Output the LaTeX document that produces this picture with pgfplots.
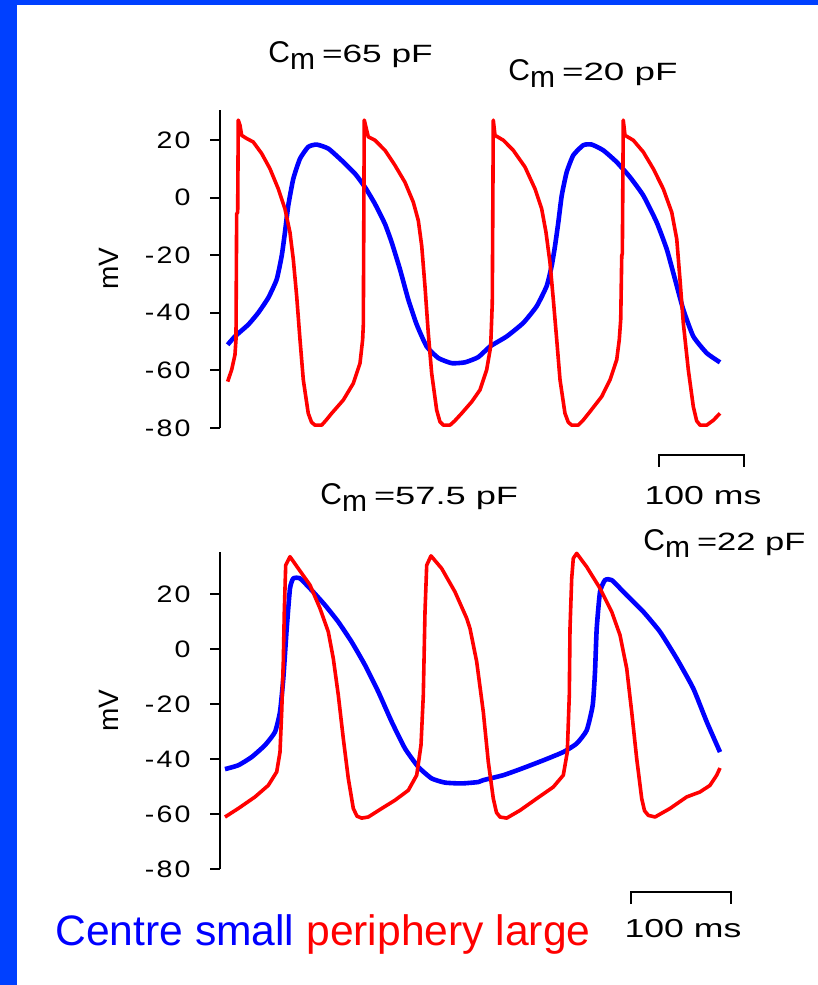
\documentclass[border=0pt]{standalone}
\usepackage{graphicx}
\usepackage{pgfplots}
\pgfplotsset{compat=1.18}
\usepackage{fontspec}
\setmainfont{Liberation Sans}
\newfontfamily\spacedfont[LetterSpace=8]{Liberation Sans}
\definecolor{frameblue}{RGB}{0,64,255}
\definecolor{tracered}{RGB}{255,0,0}
\definecolor{traceblue}{RGB}{0,0,255}

\pgfplotstableread{
t V
0.8 -51.1
9.4 -48.2
25.1 -44.1
36.8 -40.0
48.6 -34.8
58.5 -28.4
64.4 -20.2
68.2 -12.1
72.1 -2.8
78.0 6.5
85.9 13.5
95.6 17.6
105.5 18.4
119.2 17.0
134.9 12.9
150.6 8.3
162.4 3.6
174.1 -2.2
185.9 -9.2
193.8 -15.6
203.5 -24.9
213.3 -35.4
223.2 -44.1
234.9 -51.7
248.6 -55.7
264.4 -57.5
280.0 -57.2
295.6 -55.4
309.4 -51.7
329.1 -48.2
348.6 -43.5
364.4 -37.7
376.1 -30.7
382.0 -23.7
385.9 -16.8
389.8 -8.6
393.8 0.7
399.6 8.8
407.4 14.7
419.2 18.2
429.1 18.4
442.7 16.4
458.5 12.3
474.1 7.1
489.8 0.7
505.5 -8.6
517.3 -17.9
527.1 -28.4
536.8 -38.9
548.6 -48.2
564.4 -54.0
580.0 -57.2
}\topblue

\pgfplotstableread{
t V
0.8 -63.9
5.5 -59.8
9.4 -54.6
10.6 -49.3
11.4 -5.7
12.6 -5.1
13.3 26.9
15.3 25.1
17.3 21.6
23.2 20.5
30.9 19.3
40.8 15.3
50.6 10.0
60.4 3.0
68.2 -3.9
74.1 -12.1
78.0 -21.4
82.0 -34.2
85.9 -49.3
89.8 -63.3
95.6 -74.9
99.5 -78.0
103.5 -79.0
111.4 -79.0
116.0 -77.5
123.2 -74.9
136.8 -70.3
148.6 -64.5
156.5 -57.5
159.6 -49.3
160.4 -44.1
161.5 26.9
166.2 21.1
174.1 19.9
185.9 16.4
197.6 11.2
209.4 5.3
219.2 -1.6
225.1 -8.0
229.1 -16.8
232.9 -30.7
236.8 -47.0
240.8 -61.0
246.7 -73.8
250.5 -77.8
254.5 -79.0
262.4 -79.0
268.0 -77.5
276.1 -74.9
287.9 -70.9
297.6 -66.8
305.5 -59.8
310.2 -51.7
312.1 -36.5
313.3 26.9
315.3 21.6
325.1 19.9
336.8 16.4
350.6 10.6
362.4 3.0
370.2 -3.9
375.3 -12.1
380.0 -22.6
383.9 -35.4
387.9 -49.3
391.8 -63.3
397.6 -74.9
401.5 -78.0
405.5 -79.0
413.3 -79.0
419.0 -77.3
427.1 -74.3
440.8 -69.1
450.6 -63.3
458.5 -56.3
461.5 -49.3
463.2 -42.3
464.4 -20.2
465.1 -19.5
466.2 26.9
468.2 21.6
478.0 19.9
489.8 15.8
501.5 10.0
513.3 3.0
523.2 -5.1
529.1 -14.4
532.9 -28.4
536.8 -43.5
542.7 -59.8
548.6 -72.6
552.5 -77.5
556.5 -79.0
564.4 -79.0
572.2 -77.3
580.0 -74.9
}\topred

\pgfplotstableread{
t V
0 -43.7
13.3 -42.3
26.7 -39.3
40 -35.0
50 -30.2
55 -22.9
58.3 -10.8
61.7 7.4
65 22.0
68.3 25.6
75 25.6
86.7 21.3
100 15.9
113.3 9.8
126.7 2.5
140 -5.9
153.3 -15.6
166.7 -26.5
180 -36.2
193.3 -42.9
206.7 -47.1
220 -48.6
236.7 -48.9
253.3 -48.4
258.3 -47.7
278.3 -45.9
298.3 -43.3
318.3 -40.5
338.3 -37.5
351.7 -34.4
361.7 -29.6
367.7 -20.5
370 -8.4
371.7 7.4
375 20.7
380 25.0
386.7 25.0
401.7 19.5
418.3 13.5
435 6.2
451.7 -3.5
468.3 -14.4
481.7 -26.5
495 -37.5
}\botblue

\pgfplotstableread{
t V
0 -61.1
13.3 -58.0
30 -53.8
43.3 -49.6
51.7 -44.7
55 -37.5
56.7 -22.9
58.3 -4.7
59.3 13.5
60.7 30.4
65 33.5
73.3 29.2
85 23.2
95 14.7
103.3 6.2
108.3 -3.5
113.3 -16.8
118.3 -32.6
123.3 -47.1
128.3 -58.0
132.0 -60.8
136.7 -61.5
143.3 -61.1
156.7 -58.0
170 -55.0
183.3 -51.4
191.7 -45.9
196 -35.0
198.3 -16.8
200 13.5
201.7 30.4
206 33.8
216.7 29.2
230 20.7
241.7 11.1
245 7.4
251.7 -4.7
258.3 -22.9
263.3 -41.1
268.3 -54.4
271.5 -59.5
275 -61.1
281.7 -61.5
295 -58.7
311.7 -54.4
328.3 -50.2
338.3 -45.9
342.3 -37.5
344.3 -16.8
345 7.4
346.7 25.6
348.3 32.9
351.7 34.7
361.7 29.8
375 22.0
386.7 13.5
395 5.0
401.7 -7.1
406.7 -22.9
411.7 -39.9
416.7 -54.4
419.5 -58.8
423.3 -60.5
430 -61.1
445 -58.0
461.7 -53.8
475 -52.0
485 -49.6
491.7 -45.9
495 -43.3
}\botred

\pgfplotsset{
  trace/.style={
    scale only axis,
    axis y line*=left,
    axis x line=none,
    xtick=\empty,
    width=262.5pt,
    ymin=-80,
    ytick={-80,-60,-40,-20,0,20},
    tick align=outside,
    major tick length=5pt,
    every tick/.style={black, line width=1pt},
    axis line style={black, line width=1pt},
    yticklabel={\scalebox{1.2}[1]{\spacedfont\pgfmathprintnumber{\tick}}},
    yticklabel style={font=\fontsize{11.9}{12}\selectfont, inner sep=0pt, anchor=east, xshift=-9.5pt},
    /pgf/number format/assume math mode=true,
    ylabel={mV},
    ylabel style={font=\fontsize{14}{14}\selectfont, at={(axis description cs:-0.211,0.5)}, anchor=center},
    clip=false,
  },
  redline/.style={color=tracered, line width=1.8pt, line join=round},
  blueline/.style={color=traceblue, line width=2.3pt, line join=round, smooth, tension=0.3},
}

\newcommand{\cmlabel}[2]{{\fontsize{15}{15}\selectfont C\raisebox{-3.5pt}{m}}\hspace{3.5pt}\fontsize{12.5}{12.5}\selectfont\scalebox{#1}[1]{=#2}}
\newcommand{\scalebarlabel}{\fontsize{13}{13}\selectfont\scalebox{1.37}[1]{100 ms}}

\begin{document}
\begin{tikzpicture}
\fill[white] (0pt,0pt) rectangle (409pt,-492.5pt);
\fill[frameblue] (0pt,0pt) rectangle (8.5pt,-492.5pt);
\fill[frameblue] (0pt,0pt) rectangle (409pt,-2.5pt);

% top panel
\begin{axis}[trace, at={(110pt,-214pt)}, anchor=south west,
  height=159pt, xmin=-8.2, xmax=609.4, ymax=30.4]
\addplot[blueline] table[x=t,y=V] {\topblue};
\addplot[redline] table[x=t,y=V] {\topred};
\draw[line width=1pt] (axis cs:508,-93.5) -- (axis cs:508,-89.4) -- (axis cs:608,-89.4) -- (axis cs:608,-93.5);
\node at (axis cs:560,-103.3) {\scalebarlabel};
\end{axis}

% bottom panel
\begin{axis}[trace, at={(110pt,-434.5pt)}, anchor=south west,
  height=158.5pt, xmin=-5, xmax=520, ymax=35.2]
\addplot[blueline] table[x=t,y=V] {\botblue};
\addplot[redline] table[x=t,y=V] {\botred};
\draw[line width=1pt] (axis cs:406,-92.8) -- (axis cs:406,-88.5) -- (axis cs:506,-88.5) -- (axis cs:506,-92.8);
\node at (axis cs:458,-101.6) {\scalebarlabel};
\end{axis}

% titles
\node[anchor=base west, inner sep=0pt] at (134pt,-31pt) {\cmlabel{1.41}{65 pF}};
\node[anchor=base west, inner sep=0pt] at (254pt,-40pt) {\cmlabel{1.47}{20 pF}};
\node[anchor=base west, inner sep=0pt] at (160pt,-252pt) {\cmlabel{1.45}{57.5 pF}};
\node[anchor=base west, inner sep=0pt] at (321.5pt,-275pt) {\cmlabel{1.38}{22 pF}};

% legend text
\node[anchor=base west, inner sep=0pt, font=\fontsize{21.3}{21.3}\selectfont] at (27.5pt,-472.5pt) {\textcolor{traceblue}{Centre small} \textcolor{tracered}{periphery large}};
\end{tikzpicture}
\end{document}
